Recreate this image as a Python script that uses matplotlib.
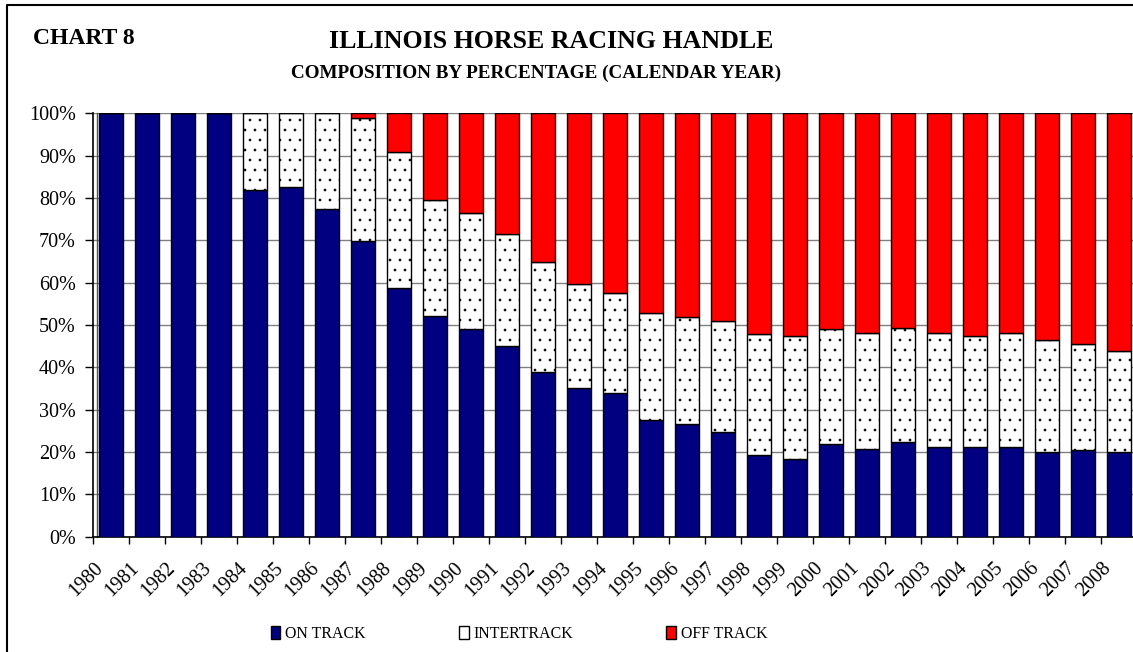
import matplotlib
matplotlib.use("Agg")
import matplotlib.pyplot as plt
from matplotlib.lines import Line2D
from matplotlib.patches import Patch
from matplotlib.transforms import ScaledTranslation
import numpy as np

years = [str(y) for y in range(1980, 2009)]
on_track = [100, 100, 100, 100, 82.0, 82.7, 77.3, 69.8, 58.7, 52.1, 49.1, 45.1, 39.0, 35.1,
            34.0, 27.5, 26.7, 24.8, 19.3, 18.3, 22.0, 20.8, 22.4, 21.1, 21.1, 21.1, 20.1, 20.5, 20.1]
intertrack = [0, 0, 0, 0, 18.0, 17.3, 22.7, 29.0, 32.1, 27.4, 27.4, 26.3, 25.8, 24.7,
              23.6, 25.4, 25.3, 26.1, 28.5, 29.1, 27.0, 27.4, 27.0, 27.1, 26.3, 27.1, 26.3, 24.9, 23.8]
off_track = [0, 0, 0, 0, 0, 0, 0, 1.2, 9.2, 20.5, 23.5, 28.6, 35.2, 40.2,
             42.4, 47.1, 48.0, 49.1, 52.2, 52.6, 51.0, 51.8, 50.6, 51.8, 52.6, 51.8, 53.6, 54.6, 56.1]
series_names = ["ON TRACK", "INTERTRACK", "OFF TRACK"]
yticks = list(range(0, 101, 10))

DPI = 120
S = 100 / DPI  # sizes below are tuned as if at 100 dpi

plt.rcParams['font.family'] = ['Liberation Serif', 'DejaVu Serif']
plt.rcParams['hatch.color'] = '#222222'
plt.rcParams['hatch.linewidth'] = 0.5 * S

W, H = 1133, 652
fig = plt.figure(figsize=(W / DPI, H / DPI), dpi=DPI)
ax = fig.add_axes([93.3 / W, 1 - 536.7 / H, (1137 - 93.3) / W, (536.7 - 113.3) / H])

x = np.arange(len(years))
bw = 0.675
lw = 1.0 * S
ax.bar(x, on_track, bw, color='#000080', edgecolor='black', linewidth=lw, zorder=3)
ax.bar(x, intertrack, bw, bottom=on_track, color='white', edgecolor='black',
       linewidth=lw, hatch='..', zorder=3)
bottom2 = np.array(on_track) + np.array(intertrack)
ax.bar(x, off_track, bw, bottom=bottom2, color='#FF0000', edgecolor='black', linewidth=lw, zorder=3)

ax.set_xlim(-0.5, len(years) - 0.5)
ax.set_ylim(0, 100)
ax.set_yticks(yticks)
ax.set_yticklabels([f"{v}%" for v in yticks], fontsize=14.5 * S)
ax.yaxis.grid(True, color='#808080', linewidth=1.0 * S, zorder=0)
ax.set_axisbelow(True)

ax.set_xticks(x)
ax.set_xticklabels(years, fontsize=14.5 * S, rotation=45, ha='right', va='center',
                   rotation_mode='anchor')
ax.tick_params(axis='x', which='major', length=0, pad=12 * S)
ax.set_xticks(np.arange(-0.5, len(years) + 0.5, 1), minor=True)
ax.tick_params(axis='x', which='minor', length=5 * S, width=1.0 * S, direction='out')
ax.tick_params(axis='y', length=6 * S, width=1.0 * S, direction='out', pad=6.5 * S)
shift = ScaledTranslation(-11 / DPI, -12 / DPI, fig.dpi_scale_trans)
for lbl in ax.get_xticklabels():
    lbl.set_transform(lbl.get_transform() + shift)

for s in ['top', 'right']:
    ax.spines[s].set_visible(False)
for s in ['left', 'bottom']:
    ax.spines[s].set_linewidth(1.2 * S)
# inner plot-area border line just right of the axis line
ax.plot([3.3 / 1044, 3.3 / 1044], [0, 1], transform=ax.transAxes, color='#555555',
        linewidth=1.0 * S, zorder=2, clip_on=False)

# outer frame
fig.add_artist(Line2D([7 / W, 7 / W, 1.0], [0, 1 - 5 / H, 1 - 5 / H],
                      transform=fig.transFigure, color='black', linewidth=1.5 * S))

fig.text(33 / W, 1 - 38 / H, "CHART 8", fontsize=17 * S, fontweight='bold', ha='left', va='center')
fig.text(551 / W, 1 - 41 / H, "ILLINOIS HORSE RACING HANDLE", fontsize=18.6 * S,
         fontweight='bold', ha='center', va='center')
fig.text(536 / W, 1 - 73 / H, "COMPOSITION BY PERCENTAGE (CALENDAR YEAR)", fontsize=13.8 * S,
         fontweight='bold', ha='center', va='center')

handles = [Patch(facecolor='#000080', edgecolor='black', linewidth=lw),
           Patch(facecolor='white', edgecolor='black', linewidth=lw),
           Patch(facecolor='#FF0000', edgecolor='black', linewidth=lw)]
fig.legend(handles, series_names, loc='center', bbox_to_anchor=(519 / W, 1 - 634 / H),
           ncol=3, frameon=False, fontsize=11.4 * S, handlelength=0.6, handleheight=0.85,
           handletextpad=0.3, columnspacing=5.9)

fig.savefig("out.png", dpi=DPI)
